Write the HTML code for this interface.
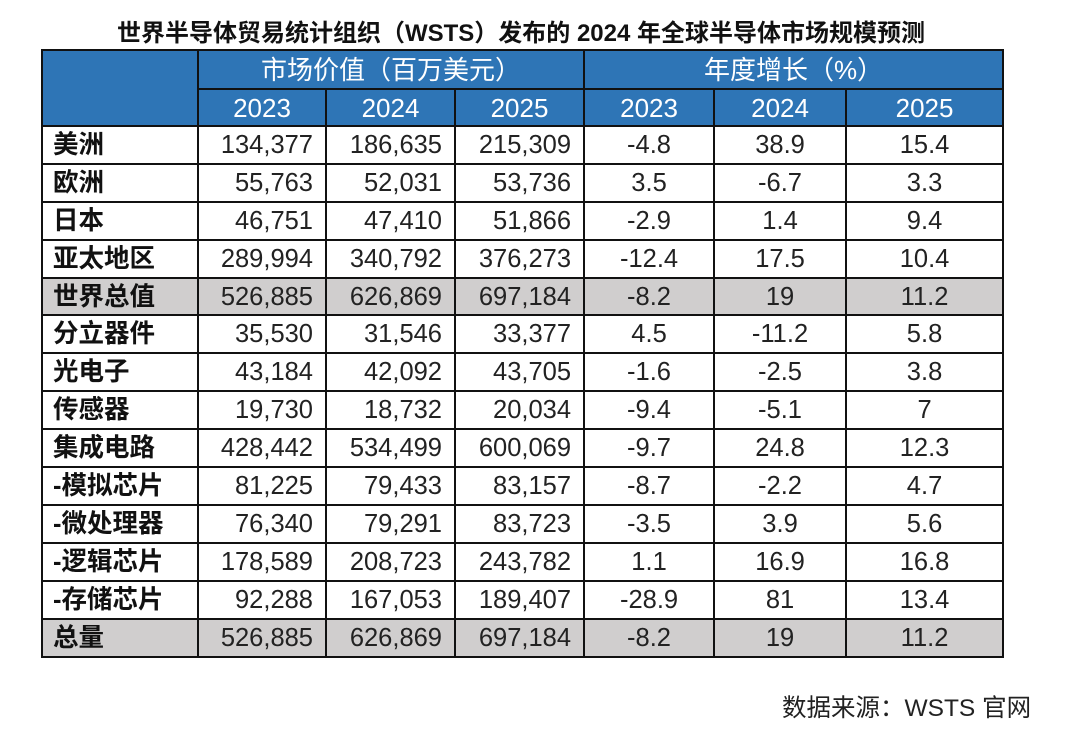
<!DOCTYPE html>
<html><head><meta charset="utf-8"><style>
body{margin:0;width:1080px;height:737px;background:#fff;position:relative;font-family:"Liberation Sans","Noto Sans CJK SC",sans-serif;overflow:hidden}
#title{position:absolute;left:0;width:1042px;top:13px;text-align:center;font-size:24px;font-weight:bold;color:#111;font-family:"Liberation Sans","Noto Sans CJK SC",sans-serif}
table{position:absolute;left:41px;top:49px;border-collapse:collapse;table-layout:fixed;width:961px}
td{border:2px solid #111;padding:0;font-size:25.5px;color:#222;height:34px;line-height:34px;white-space:nowrap;overflow:hidden}
.h td{background:#2e75b6;color:#fff;text-align:center;font-size:26px}
.lab{font-weight:bold;padding-left:10px;text-align:left;color:#111}
.v{text-align:right;padding-right:12px}
.p{text-align:center}
.g td{background:#d0cece}
#src{position:absolute;left:782px;top:689px;font-size:24.5px;color:#222}
</style></head><body>
<div id="title">世界半导体贸易统计组织（WSTS）发布的 2024 年全球半导体市场规模预测</div>
<table>
<colgroup><col style="width:156px"><col style="width:128px"><col style="width:129px"><col style="width:129px"><col style="width:130px"><col style="width:132px"><col style="width:157px"></colgroup>
<tr class="h" style="height:39px"><td rowspan="2"></td><td colspan="3">市场价值（百万美元）</td><td colspan="3">年度增长（%）</td></tr>
<tr class="h" style="height:37px"><td>2023</td><td>2024</td><td>2025</td><td>2023</td><td>2024</td><td>2025</td></tr>
<tbody id="body"></tbody>
</table>
<div id="src">数据来源：WSTS 官网</div>
<script>
const labels=["美洲","欧洲","日本","亚太地区","世界总值","分立器件","光电子","传感器","集成电路","-模拟芯片","-微处理器","-逻辑芯片","-存储芯片","总量"];
const v2023=["134,377","55,763","46,751","289,994","526,885","35,530","43,184","19,730","428,442","81,225","76,340","178,589","92,288","526,885"];
const v2024=["186,635","52,031","47,410","340,792","626,869","31,546","42,092","18,732","534,499","79,433","79,291","208,723","167,053","626,869"];
const v2025=["215,309","53,736","51,866","376,273","697,184","33,377","43,705","20,034","600,069","83,157","83,723","243,782","189,407","697,184"];
const g2023=["-4.8","3.5","-2.9","-12.4","-8.2","4.5","-1.6","-9.4","-9.7","-8.7","-3.5","1.1","-28.9","-8.2"];
const g2024=["38.9","-6.7","1.4","17.5","19","-11.2","-2.5","-5.1","24.8","-2.2","3.9","16.9","81","19"];
const g2025=["15.4","3.3","9.4","10.4","11.2","5.8","3.8","7","12.3","4.7","5.6","16.8","13.4","11.2"];
const gray=[4,13];
const body=document.getElementById('body');
labels.forEach((l,i)=>{
 const tr=document.createElement('tr');
 
 
 tr.style.height=(i===13?'38px':'37.9px');
 if(gray.includes(i))tr.className='g';
 const cells=[[l,'lab'],[v2023[i],'v'],[v2024[i],'v'],[v2025[i],'v'],[g2023[i],'p'],[g2024[i],'p'],[g2025[i],'p']];
 cells.forEach((c,j)=>{
  const td=document.createElement('td');
  
  
  td.className=c[1];td.textContent=c[0];tr.appendChild(td);
 });
 body.appendChild(tr);
});
</script>
</body></html>
